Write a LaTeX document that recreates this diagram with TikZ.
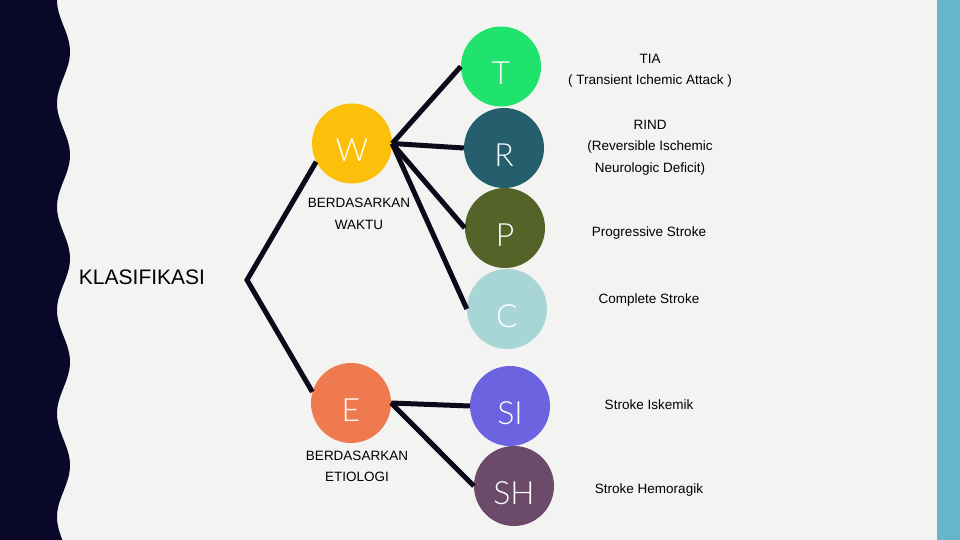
\documentclass[tikz,border=0pt]{standalone}
\usepackage{fontspec}
\setmainfont{Liberation Sans}
\newfontfamily\thinfont{Lato Light}
\definecolor{bgpaper}{HTML}{F3F3F1}
\definecolor{navyband}{HTML}{0A0828}
\definecolor{tealband}{HTML}{66B5C9}
\definecolor{linkink}{HTML}{0B0A1A}
\definecolor{cW}{HTML}{FCBF0A}
\definecolor{cE}{HTML}{F07A50}
\definecolor{cT}{HTML}{20E36E}
\definecolor{cR}{HTML}{255E6C}
\definecolor{cP}{HTML}{566328}
\definecolor{cC}{HTML}{A8D6D6}
\definecolor{cSI}{HTML}{6C63E0}
\definecolor{cSH}{HTML}{6B4A6A}

\begin{document}
\begin{tikzpicture}[x=1pt, y=-1pt,
    bubble/.style={circle, minimum size=80pt, inner sep=0pt},
    letter/.style={text=white, inner sep=0pt, font=\thinfont\fontsize{32}{32}\selectfont},
    link/.style={line width=5pt, draw=linkink},
    note/.style={align=center, inner sep=0pt, font=\fontsize{13.5}{21.5}\selectfont},
    caption/.style={align=center, inner sep=0pt, font=\fontsize{13.5}{21.5}\selectfont}]
    \useasboundingbox (0,0) rectangle (960,540);
    \fill[bgpaper] (0,0) rectangle (960,540);
    % pita kiri bergelombang dan pita kanan
    \fill[navyband] (0,0) -- plot[domain=0:540, samples=200, variable=\t]
        ({63.5-6.5*cos(\t/103.4*360)}, \t) -- (0,540) -- cycle;
    \fill[tealband] (937,0) rectangle (960,540);

    \coordinate (K) at (247,280);
    \node[inner sep=0pt, font=\fontsize{21}{21}\selectfont] (klas) at (142,277) {KLASIFIKASI};

    \node[bubble, fill=cW] (W) at (352,143.5) {};
    \node[bubble, fill=cE] (E) at (351,403) {};
    \node[bubble, fill=cT] (T) at (501,66.5) {};
    \node[bubble, fill=cR] (R) at (504,148) {};
    \node[bubble, fill=cP] (P) at (505,228) {};
    \node[bubble, fill=cC] (C) at (507,309) {};
    \node[bubble, fill=cSI] (SI) at (510,406) {};
    \node[bubble, fill=cSH] (SH) at (514,486) {};

    \draw[link] (W.207) -- (K) -- (E.164);
    \foreach \n in {T,R,P,C}
        \draw[link] (W.east) -- (\n.west);
    \foreach \n in {SI,SH}
        \draw[link] (E.east) -- (\n.west);

    \foreach \n in {W,E,T,R,P,C,SI,SH}
        \node[letter] (\n-l) at ([shift={(0,7)}]\n.center) {\n};

    \node[caption] (W-cap) at (359,214) {BERDASARKAN\\WAKTU};
    \node[caption] (E-cap) at (357,466.5) {BERDASARKAN\\ETIOLOGI};

    \node[note] (T-txt) at (650,71) {TIA\\( Transient Ichemic Attack )};
    \node[note] (R-txt) at (650,147.5) {RIND\\(Reversible Ischemic\\Neurologic Deficit)};
    \node[note] (P-txt) at (649,233) {Progressive Stroke};
    \node[note] (C-txt) at (649,300) {Complete Stroke};
    \node[note] (SI-txt) at (649,405) {Stroke Iskemik};
    \node[note] (SH-txt) at (649,490) {Stroke Hemoragik};
\end{tikzpicture}
\end{document}
